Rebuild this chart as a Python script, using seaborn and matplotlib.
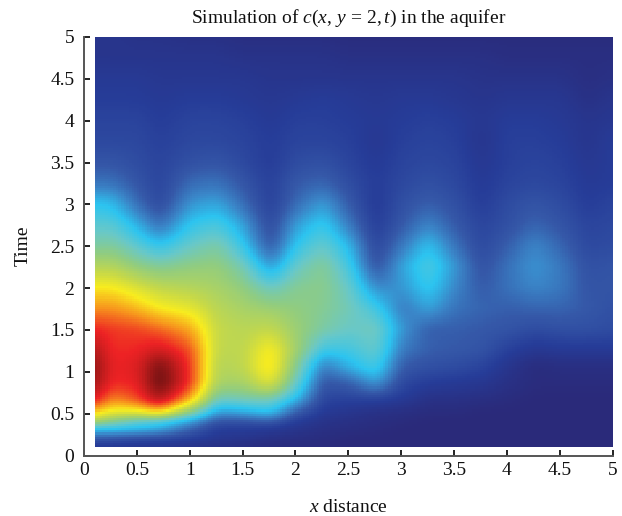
import numpy as np
import matplotlib
matplotlib.use("Agg")
import matplotlib.pyplot as plt
from matplotlib.colors import LinearSegmentedColormap
import seaborn as sns

x_nodes = [0.1, 0.25, 0.5, 0.7, 1.0, 1.25, 1.5, 1.75, 2.0, 2.25, 2.5, 2.75, 3.0, 3.25, 3.5, 3.75, 4.0, 4.25, 4.5, 4.75, 5.0]
y_nodes = [0.1, 0.2, 0.3, 0.4, 0.5, 0.65, 0.85, 1.05, 1.25, 1.5, 1.75, 2.0, 2.25, 2.5, 2.75, 3.0, 3.25, 3.5, 3.75, 4.0, 4.25, 4.5, 4.75, 5.0]
conc = [
    [.06,.06,.05,.05,.04,.03,.02,.01,.01,.01,0,0,0,0,0,0,0,0,0,0,0],
    [.15,.14,.12,.11,.09,.06,.05,.03,.02,.01,0,0,0,0,0,0,0,0,0,0,0],
    [.30,.31,.30,.28,.17,.08,.08,.07,.05,.03,.02,.01,0,0,0,0,0,0,0,0,0],
    [.52,.44,.36,.33,.25,.14,.14,.16,.08,.04,.03,.02,.01,0,0,0,0,0,0,0,0],
    [.66,.60,.60,.66,.44,.24,.26,.30,.15,.07,.05,.03,.02,.01,.01,0,0,0,0,0,0],
    [.84,.72,.78,.90,.68,.38,.40,.40,.28,.10,.09,.09,.07,.03,.03,.02,.01,0,0,0,0],
    [.92,.81,.83,1.0,.80,.50,.50,.60,.38,.14,.16,.25,.11,.08,.07,.06,.03,.01,.01,.01,.01],
    [.94,.82,.84,.98,.80,.52,.54,.66,.44,.20,.28,.34,.15,.13,.12,.10,.05,.01,.02,.02,.02],
    [.90,.81,.82,.86,.78,.54,.54,.64,.49,.32,.33,.38,.20,.16,.15,.14,.09,.06,.07,.07,.07],
    [.82,.80,.79,.76,.70,.55,.53,.55,.48,.42,.38,.40,.24,.16,.16,.15,.14,.12,.13,.13,.12],
    [.72,.72,.68,.63,.60,.53,.50,.48,.46,.44,.40,.33,.20,.26,.19,.17,.16,.17,.17,.15,.13],
    [.63,.63,.58,.54,.52,.50,.46,.38,.44,.45,.38,.22,.24,.32,.22,.15,.19,.22,.20,.14,.14],
    [.52,.52,.46,.43,.46,.47,.40,.24,.38,.44,.33,.13,.26,.35,.24,.13,.19,.24,.20,.13,.14],
    [.42,.43,.36,.30,.38,.42,.31,.14,.31,.38,.28,.10,.20,.30,.19,.11,.16,.22,.17,.11,.12],
    [.36,.36,.27,.18,.31,.34,.25,.11,.25,.32,.20,.08,.15,.22,.15,.10,.13,.17,.14,.10,.11],
    [.30,.29,.18,.11,.24,.26,.18,.09,.18,.25,.15,.07,.13,.16,.13,.08,.12,.14,.12,.08,.10],
    [.19,.19,.14,.10,.18,.19,.14,.09,.15,.17,.12,.08,.11,.13,.11,.07,.10,.11,.10,.07,.08],
    [.14,.14,.12,.10,.13,.14,.11,.08,.12,.13,.10,.07,.10,.11,.10,.06,.09,.10,.09,.06,.08],
    [.11,.11,.11,.09,.11,.11,.10,.08,.10,.10,.09,.06,.09,.10,.09,.05,.09,.09,.08,.05,.08],
    [.10,.10,.10,.08,.10,.10,.09,.07,.09,.09,.08,.07,.08,.09,.08,.06,.08,.08,.07,.05,.06],
    [.08,.08,.08,.07,.08,.08,.07,.06,.07,.08,.07,.06,.07,.07,.06,.05,.06,.06,.06,.03,.05],
    [.07,.07,.07,.06,.06,.06,.06,.05,.05,.05,.05,.05,.05,.05,.05,.04,.04,.04,.04,.02,.03],
    [.05,.05,.05,.05,.05,.05,.04,.04,.04,.04,.03,.03,.03,.03,.03,.03,.02,.02,.02,.02,.02],
    [.05,.05,.04,.04,.03,.03,.02,.02,.02,.02,.01,.01,.01,.01,.01,.01,.01,.01,.01,.01,.01],
]
tick_values = [0, 0.5, 1, 1.5, 2, 2.5, 3, 3.5, 4, 4.5, 5]
tick_labels = ["0", "0.5", "1", "1.5", "2", "2.5", "3", "3.5", "4", "4.5", "5"]

sns.set_theme(style="white")
plt.rcParams.update({
    "font.family": ["Liberation Serif"],
    "mathtext.fontset": "custom",
    "mathtext.rm": "Liberation Serif",
    "mathtext.it": "Liberation Serif:italic",
})

cmap = LinearSegmentedColormap.from_list("muted_jet", [
    (0.00, "#2a2a7a"), (0.08, "#263c98"), (0.15, "#3558a8"), (0.22, "#3a86c8"),
    (0.30, "#2cc4f0"), (0.38, "#68c8c8"), (0.46, "#90cc80"), (0.55, "#c4d84a"),
    (0.63, "#f8ec1e"), (0.72, "#f7941d"), (0.82, "#ed2224"), (0.92, "#a01818"),
    (1.00, "#5e0f10")], N=512)

# resample the read values on a regular cell grid for the heatmap
step = 0.025
xf = np.arange(0.1, 5.0 + step / 2, step)
yf = np.arange(0.1, 5.0 + step / 2, step)
Z = np.array(conc, float)
Zx = np.array([np.interp(xf, x_nodes, row) for row in Z])
Zf = np.array([np.interp(yf, y_nodes, Zx[:, j]) for j in range(Zx.shape[1])]).T


def smooth(a, sigma, axis):
    r = int(3 * sigma)
    k = np.exp(-0.5 * (np.arange(-r, r + 1) / sigma) ** 2)
    k /= k.sum()
    return np.apply_along_axis(lambda v: np.convolve(np.pad(v, r, mode="edge"), k, "valid"), axis, a)


Zf = smooth(smooth(Zf, 2.5, 1), 2.0, 0)

fig = plt.figure(figsize=(6.22, 5.16), dpi=100)
ax = fig.add_axes([84 / 622, 1 - 455.5 / 516, 528.5 / 622, 418.5 / 516])
sns.heatmap(Zf, cmap=cmap, vmin=0, vmax=1, cbar=False, ax=ax, xticklabels=False, yticklabels=False)


def cx(v):
    return (np.asarray(v, float) - 0.1) / step


def cy(v):
    return (np.asarray(v, float) - 0.1) / step


ax.set_xlim(cx(0), cx(5))
ax.set_ylim(cy(0), cy(5))
ax.set_xticks(cx(tick_values), tick_labels)
ax.set_yticks(cy(tick_values), tick_labels, rotation=0)
ax.tick_params(axis="both", direction="in", length=4, width=1.3, color="#111111",
               labelsize=14, labelcolor="#111111", left=True, bottom=True)
ax.tick_params(axis="x", pad=4.5)
ax.tick_params(axis="y", pad=7)
for side in ("top", "right"):
    ax.spines[side].set_visible(False)
for side in ("left", "bottom"):
    ax.spines[side].set_visible(True)
    ax.spines[side].set_color("#555555")
    ax.spines[side].set_linewidth(1.4)

ax.set_title(r"Simulation of $c(x,\,y\,=\,2,t)$ in the aquifer", fontsize=14, color="#111111", pad=10)
ax.set_xlabel(r"$x$ distance", fontsize=14, color="#111111", labelpad=14.5)
ax.set_ylabel("Time", fontsize=14, color="#111111", labelpad=13)

fig.savefig("out.png", dpi=100)
